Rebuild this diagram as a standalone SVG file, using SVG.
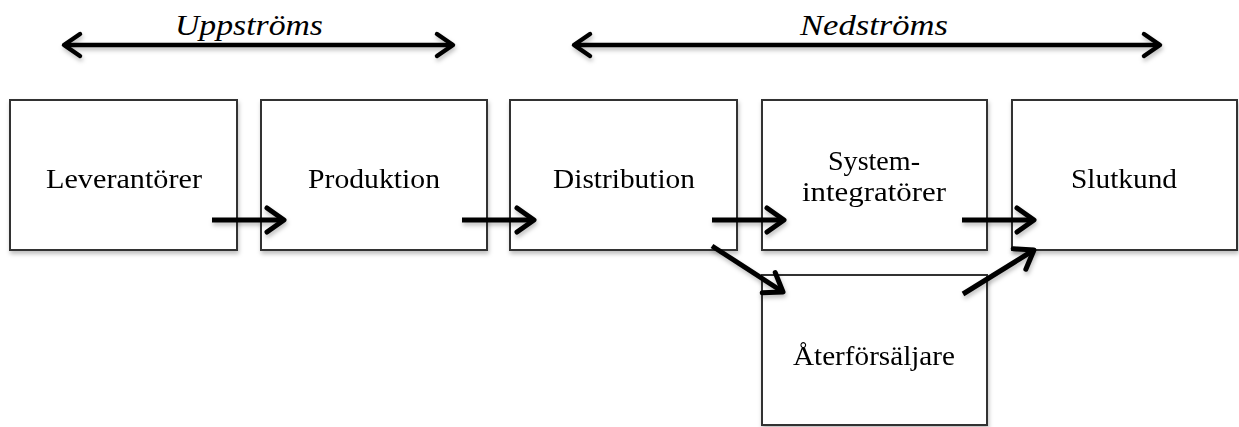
<svg xmlns="http://www.w3.org/2000/svg" width="1239" height="427" viewBox="0 0 1239 427">
<defs>
<filter id="sh" x="-10%" y="-10%" width="120%" height="130%">
<feDropShadow dx="1" dy="3" stdDeviation="2" flood-color="#000" flood-opacity="0.25"/>
</filter>
<marker id="head" markerUnits="userSpaceOnUse" markerWidth="40" markerHeight="40" refX="0" refY="0" viewBox="-25 -20 30 40" orient="auto-start-reverse" overflow="visible">
<polyline points="-17,-12 0,0 -17,12" fill="none" stroke="#000" stroke-width="5" stroke-linecap="round" stroke-linejoin="round"/>
</marker>
<marker id="head2" markerUnits="userSpaceOnUse" markerWidth="40" markerHeight="40" refX="0" refY="0" viewBox="-25 -20 30 40" orient="auto-start-reverse" overflow="visible">
<polyline points="-16,-11 0,0 -16,11" fill="none" stroke="#000" stroke-width="4.5" stroke-linecap="round" stroke-linejoin="round"/>
</marker>
</defs>
<style>
.box{fill:#fff;stroke:#333;stroke-width:2;}
.lbl{font-family:"Liberation Serif","Times New Roman",serif;font-size:27px;fill:#000;text-anchor:middle;}
.hdr{font-family:"Liberation Serif","Times New Roman",serif;font-size:30px;font-style:italic;fill:#000;text-anchor:middle;}
.conn{stroke:#000;stroke-width:5;fill:none;marker-end:url(#head);}
.span{stroke:#000;stroke-width:4.5;fill:none;marker-start:url(#head2);marker-end:url(#head2);}
</style>
<rect width="1239" height="427" fill="#fff"/>
<g id="upstream">
<text class="hdr" x="249" y="35" textLength="148" lengthAdjust="spacingAndGlyphs">Uppströms</text>
</g>
<g id="downstream">
<text class="hdr" x="874" y="35" textLength="148" lengthAdjust="spacingAndGlyphs">Nedströms</text>
</g>
<g id="n-leverantorer" filter="url(#sh)">
<rect class="box" x="10" y="100" width="227" height="150"/>
<text class="lbl" x="124" y="188" textLength="156" lengthAdjust="spacingAndGlyphs">Leverantörer</text>
</g>
<g id="n-produktion" filter="url(#sh)">
<rect class="box" x="261" y="100" width="226" height="150"/>
<text class="lbl" x="374" y="188" textLength="132" lengthAdjust="spacingAndGlyphs">Produktion</text>
</g>
<g id="n-distribution" filter="url(#sh)">
<rect class="box" x="510" y="100" width="227" height="150"/>
<text class="lbl" x="624" y="188" textLength="142" lengthAdjust="spacingAndGlyphs">Distribution</text>
</g>
<g id="n-systemintegratorer" filter="url(#sh)">
<rect class="box" x="762" y="100" width="225" height="150"/>
<text class="lbl" x="874" y="170" textLength="92" lengthAdjust="spacingAndGlyphs">System-</text>
<text class="lbl" x="874" y="201" textLength="144" lengthAdjust="spacingAndGlyphs">integratörer</text>
</g>
<g id="n-slutkund" filter="url(#sh)">
<rect class="box" x="1012" y="100" width="225" height="150"/>
<text class="lbl" x="1124" y="188" textLength="106" lengthAdjust="spacingAndGlyphs">Slutkund</text>
</g>
<g id="n-aterforsaljare" filter="url(#sh)">
<rect class="box" x="762" y="275" width="225" height="150"/>
<text class="lbl" x="874" y="365" textLength="162" lengthAdjust="spacingAndGlyphs">Återförsäljare</text>
</g>
<g id="connectors" filter="url(#sh)">
<line class="span" x1="64" y1="45" x2="453" y2="45"/>
<line class="span" x1="574" y1="45" x2="1160" y2="45"/>
<line class="conn" x1="212" y1="220" x2="284" y2="220"/>
<line class="conn" x1="462" y1="220" x2="534" y2="220"/>
<line class="conn" x1="712" y1="220" x2="784" y2="220"/>
<line class="conn" x1="962" y1="220" x2="1034" y2="220"/>
<line class="conn" x1="712" y1="246" x2="783" y2="292"/>
<line class="conn" x1="963" y1="294" x2="1034" y2="250"/>
</g>
</svg>
